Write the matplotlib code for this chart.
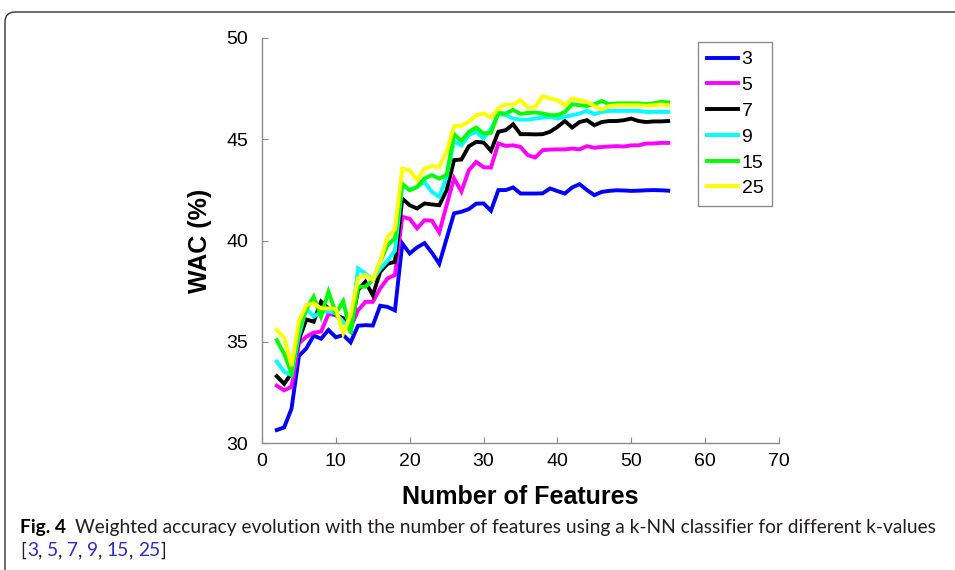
import matplotlib
matplotlib.use('Agg')
import matplotlib.pyplot as plt
from matplotlib.patches import FancyBboxPatch
from matplotlib.transforms import IdentityTransform

# данные: WAC (%) от числа признаков, для разных k
n_features = list(range(2, 56))
k_labels = ['3', '5', '7', '9', '15', '25']

wac_k3 = [30.64, 30.77, 31.70, 34.30, 34.67, 35.30, 35.15, 35.58, 35.22, 35.33,
          34.97, 35.79, 35.82, 35.80, 36.78, 36.72, 36.55, 39.85, 39.36, 39.66,
          39.87, 39.40, 38.85, 40.10, 41.34, 41.42, 41.55, 41.82, 41.83, 41.47,
          42.49, 42.49, 42.62, 42.32, 42.32, 42.32, 42.33, 42.57, 42.44, 42.32,
          42.62, 42.78, 42.49, 42.24, 42.40, 42.45, 42.48, 42.47, 42.45, 42.46,
          42.48, 42.49, 42.48, 42.46]
wac_k5 = [32.83, 32.60, 32.78, 34.92, 35.25, 35.45, 35.50, 36.38, 36.30, 36.07,
          35.70, 36.55, 36.97, 36.97, 37.63, 38.13, 38.29, 41.17, 41.07, 40.60,
          41.00, 40.98, 40.40, 41.75, 43.07, 42.42, 43.47, 43.88, 43.62, 43.60,
          44.79, 44.67, 44.70, 44.62, 44.21, 44.10, 44.46, 44.49, 44.50, 44.50,
          44.54, 44.50, 44.66, 44.58, 44.62, 44.64, 44.66, 44.64, 44.70, 44.70,
          44.79, 44.79, 44.82, 44.82]
wac_k7 = [33.30, 32.92, 33.45, 35.10, 36.10, 35.99, 36.98, 36.65, 36.32, 36.16,
          35.58, 37.55, 37.96, 37.30, 38.45, 38.85, 38.95, 42.07, 41.74, 41.58,
          41.83, 41.78, 41.74, 42.48, 43.97, 44.00, 44.65, 44.87, 44.84, 44.43,
          45.37, 45.45, 45.74, 45.25, 45.25, 45.24, 45.25, 45.37, 45.61, 45.90,
          45.58, 45.85, 45.94, 45.69, 45.85, 45.90, 45.90, 45.94, 46.02, 45.90,
          45.85, 45.88, 45.88, 45.90]
wac_k9 = [34.02, 33.52, 33.36, 35.30, 36.65, 36.24, 36.48, 36.50, 36.40, 35.99,
          35.58, 38.62, 38.37, 38.05, 38.60, 39.00, 39.50, 42.73, 42.50, 42.65,
          42.90, 42.40, 42.16, 43.14, 44.90, 44.70, 45.20, 45.37, 45.04, 45.50,
          46.25, 46.19, 46.02, 45.97, 45.97, 46.02, 46.07, 46.10, 46.02, 46.10,
          46.19, 46.27, 46.40, 46.24, 46.35, 46.40, 46.40, 46.40, 46.40, 46.40,
          46.35, 46.35, 46.35, 46.35]
wac_k15 = [35.08, 34.40, 33.45, 35.60, 36.60, 37.22, 36.24, 37.47, 36.40, 37.00,
           35.42, 37.71, 37.72, 38.04, 38.95, 39.77, 40.10, 42.80, 42.48, 42.65,
           43.06, 43.23, 43.06, 43.23, 45.25, 44.92, 45.36, 45.58, 45.28, 45.32,
           46.30, 46.27, 46.45, 46.25, 46.30, 46.32, 46.27, 46.19, 46.19, 46.35,
           46.73, 46.68, 46.64, 46.73, 46.89, 46.73, 46.77, 46.77, 46.77, 46.77,
           46.73, 46.77, 46.85, 46.82]
wac_k25 = [35.58, 35.20, 33.80, 36.00, 36.81, 36.90, 36.65, 36.65, 36.62, 35.42,
           36.32, 38.13, 38.29, 38.05, 38.95, 40.18, 40.54, 43.55, 43.47, 42.98,
           43.55, 43.67, 43.64, 44.38, 45.65, 45.67, 45.86, 46.19, 46.27, 46.08,
           46.52, 46.72, 46.70, 46.93, 46.56, 46.60, 47.13, 47.01, 46.93, 46.68,
           47.01, 46.93, 46.85, 46.64, 46.47, 46.64, 46.68, 46.68, 46.68, 46.68,
           46.65, 46.68, 46.72, 46.68]

series = [wac_k3, wac_k5, wac_k7, wac_k9, wac_k15, wac_k25]
colors = ['#0000FF', '#FF00FF', '#000000', '#00FFFF', '#00FF00', '#FFFF00']

W, H = 955, 570
fig = plt.figure(figsize=(W / 100, H / 100), dpi=100)
fig.patch.set_facecolor('white')

# рамка вокруг рисунка со скруглённым углом
frame = FancyBboxPatch((5, -30), 1100, H - 12 + 30,
                       boxstyle='round,pad=0,rounding_size=10',
                       transform=IdentityTransform(), fill=False,
                       edgecolor='#333333', linewidth=1.0)
fig.add_artist(frame)

ax = fig.add_axes([262 / W, 1 - 443 / H, 517 / W, 405 / H])
for vals, lab, col in zip(series, k_labels, colors):
    ax.plot(n_features, vals, color=col, lw=2.8, label=lab,
            solid_joinstyle='miter')

ax.set_xlim(0, 70)
ax.set_ylim(30, 50)
ax.set_xticks(range(0, 71, 10))
ax.set_yticks(range(30, 51, 5))
for s in ['top', 'right']:
    ax.spines[s].set_visible(False)
for s in ['left', 'bottom']:
    ax.spines[s].set_color('#8c8c8c')
    ax.spines[s].set_linewidth(1.0)

ax.tick_params(direction='in', length=4, color='#8c8c8c', labelsize=14)
ax.tick_params(axis='y', pad=10)
ax.tick_params(axis='x', pad=7)
for lbl in ax.get_xticklabels() + ax.get_yticklabels():
    lbl.set_fontfamily('Liberation Sans')

ax.set_xlabel('Number of Features', fontsize=18, fontweight='bold',
              family='Liberation Sans', va='center')
ax.set_ylabel('WAC (%)', fontsize=18, fontweight='bold',
              family='Liberation Sans', va='center')
ax.xaxis.set_label_coords(0.5, -0.133)
ax.yaxis.set_label_coords(-0.12, 0.5)

leg = ax.legend(loc='upper left', bbox_to_anchor=(0.843, 0.99),
                borderaxespad=0, fancybox=False, framealpha=1,
                edgecolor='#8c8c8c', prop={'family': 'Liberation Sans', 'size': 14},
                handlelength=1.6, handletextpad=0.2, labelspacing=0.42,
                borderpad=0.45)
leg.get_frame().set_linewidth(1.0)

# подпись к рисунку
renderer = fig.canvas.get_renderer()
cap_font = 'Lato'
cap_color = '#231f20'
link_color = '#2b2bd0'

probe = fig.text(0, 0, 'Weighted accuracy evolution with the number of features '
                 'using a k-NN classifier for different k-values',
                 family=cap_font, fontsize=12)
pw = probe.get_window_extent(renderer).width
probe.remove()
cap_size = 12 * 859 / pw


def put_parts(x, y, parts):
    for txt, color, weight, gap in parts:
        t = fig.text(x / W, y / H, txt, family=cap_font, fontsize=cap_size,
                     color=color, fontweight=weight, va='baseline')
        x += t.get_window_extent(renderer).width + gap
    return x


put_parts(20, H - 533, [('Fig. 4', '#000000', 'bold', 9),
                        ('Weighted accuracy evolution with the number of features '
                         'using a k-NN classifier for different k-values',
                         cap_color, 'normal', 0)])

line2 = [('[', cap_color, 'normal', 1)]
for i, k in enumerate(k_labels):
    line2.append((k, link_color, 'normal', 0.5))
    if i < len(k_labels) - 1:
        line2.append((',', cap_color, 'normal', 4))
line2.append((']', cap_color, 'normal', 0))
put_parts(20, H - 556, line2)

fig.savefig('out.png', dpi=100)
